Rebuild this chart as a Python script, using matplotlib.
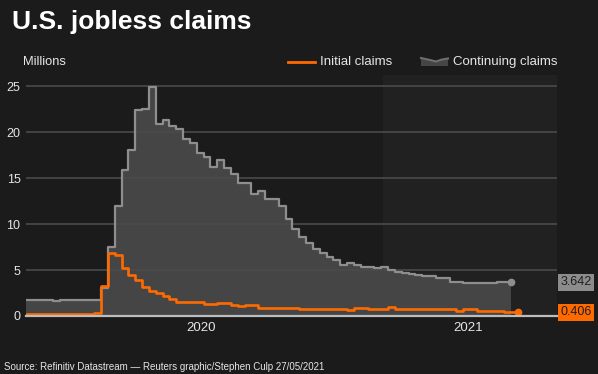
import numpy as np
import pandas as pd
import matplotlib
matplotlib.use('Agg')
import matplotlib.pyplot as plt
from matplotlib.patches import Polygon
from matplotlib.lines import Line2D

# ── Data (millions, weekly, week ending Saturday) ──────────────────────────
INITIAL_START = '2020-01-04'
initial_claims = [
    0.22, 0.21, 0.21, 0.22, 0.21, 0.21, 0.21, 0.22, 0.22, 0.21,
    0.30, 3.31, 6.87, 6.62, 5.24, 4.44, 3.87, 3.18, 2.69, 2.45,
    2.12, 1.90, 1.57, 1.54, 1.54, 1.49, 1.34, 1.34, 1.45, 1.45,
    1.20, 1.10, 1.15, 1.15, 0.92, 0.90, 0.88, 0.87, 0.86, 0.84,
    0.72, 0.80, 0.72, 0.72, 0.71, 0.72, 0.72, 0.70, 0.90, 0.90,
    0.78, 0.74, 0.74, 0.96, 0.81, 0.71, 0.71, 0.72, 0.81, 0.80,
    0.80, 0.79, 0.80, 0.58, 0.74, 0.74, 0.51, 0.51, 0.51, 0.51,
    0.44, 0.44, 0.406,
]

CONTINUING_START = '2020-01-04'
continuing_claims = [
    1.76, 1.76, 1.76, 1.76, 1.64, 1.72, 1.74, 1.74, 1.74, 1.74,
    1.74, 3.06, 7.45, 11.98, 15.82, 18.01, 22.38, 22.55, 24.91, 20.84,
    21.27, 20.61, 20.29, 19.23, 18.76, 17.76, 17.30, 16.15, 16.95, 16.09,
    15.40, 14.50, 14.50, 13.30, 13.60, 12.70, 12.70, 12.00, 10.50, 9.45,
    8.55, 7.90, 7.30, 6.80, 6.40, 6.10, 5.55, 5.80, 5.54, 5.36,
    5.30, 5.18, 5.30, 5.00, 4.80, 4.63, 4.60, 4.50, 4.35, 4.35,
    4.10, 4.10, 3.75, 3.75, 3.60, 3.60, 3.60, 3.60, 3.60, 3.70,
    3.70, 3.642,
]

year_labels = ['2020', '2021']
year_label_dates = ['2020-07-01', '2021-04-01']
yticks = [0, 5, 10, 15, 20, 25]

# ── Style ──────────────────────────────────────────────────────────────────
BG       = '#1b1b1b'
SHADE    = '#212121'
GRID     = '#4a4a4a'
ORANGE   = '#ff6a00'
GRAY_LN  = '#8e8e8e'
GRAY_FL  = '#454545'
TXT      = '#e6e6e6'

plt.rcParams['font.family'] = ['Liberation Sans', 'DejaVu Sans']

init_dates = pd.date_range(INITIAL_START, periods=len(initial_claims), freq='7D')
cont_dates = pd.date_range(CONTINUING_START, periods=len(continuing_claims), freq='7D')

fig = plt.figure(figsize=(5.98, 3.74), dpi=100, facecolor=BG)
ax = fig.add_axes([26 / 598, 1 - 316 / 374, (557 - 26) / 598, (316 - 75) / 374])
ax.set_facecolor(BG)

x_lo = pd.Timestamp('2020-01-04')
x_hi = pd.Timestamp('2021-07-01')
ax.set_xlim(x_lo, x_hi)
ax.set_ylim(0, 26.2)

# 2021 highlight
ax.axvspan(pd.Timestamp('2021-01-04'), x_hi, color=SHADE, zorder=0, lw=0)

# grid
for y in yticks[1:]:
    ax.axhline(y, color=GRID, lw=1.2, zorder=2)

# continuing claims area
ax.fill_between(cont_dates, continuing_claims, 0, step='post',
                color=GRAY_FL, lw=0, zorder=1)
ax.step(cont_dates, continuing_claims, where='post', color=GRAY_LN,
        lw=1.6, zorder=3)
ax.plot(cont_dates[-1], continuing_claims[-1], 'o', color=GRAY_LN,
        ms=4.5, zorder=4)

# initial claims line
ax.step(init_dates, initial_claims, where='post', color=ORANGE,
        lw=1.9, zorder=5)
ax.plot(init_dates[-1], initial_claims[-1], 'o', color=ORANGE,
        ms=4.5, zorder=6)

# zero line
ax.axhline(0, color='#bdbdbd', lw=1.6, zorder=7, clip_on=False)

for s in ax.spines.values():
    s.set_visible(False)

ax.set_yticks(yticks)
ax.set_yticklabels([str(v) for v in yticks])
ax.set_xticks(pd.to_datetime(year_label_dates))
ax.set_xticklabels(year_labels)
ax.tick_params(axis='y', length=0, pad=4, labelsize=9, labelcolor=TXT)
ax.tick_params(axis='x', length=0, pad=4, labelsize=9.5, labelcolor=TXT)

# end value boxes
for val, box_c in [(continuing_claims[-1], '#8c8c8c'), (initial_claims[-1], ORANGE)]:
    ax.annotate(f'{val:.3f}', xy=(1.0, val), xycoords=('axes fraction', 'data'),
                xytext=(2.5, 0), textcoords='offset points', ha='left', va='center',
                fontsize=9, color='#1e1e1e',
                bbox=dict(boxstyle='square,pad=0.2', fc=box_c, ec='none'),
                annotation_clip=False)

# title and labels
fig.text(12 / 598, 1 - 29 / 374, 'U.S. jobless claims', fontsize=19,
         fontweight='bold', color='white', ha='left', va='baseline')
fig.text(23 / 598, 1 - 62 / 374, 'Millions', fontsize=9.3, color=TXT,
         ha='left', va='center')

# legend (manual)
fig.add_artist(Line2D([288 / 598, 315 / 598], [1 - 62 / 374, 1 - 62 / 374],
                      color=ORANGE, lw=2, transform=fig.transFigure))
fig.text(320 / 598, 1 - 62 / 374, 'Initial claims', fontsize=9.5, color=TXT,
         ha='left', va='center')
wave_x = np.array([421, 430, 436, 442, 448]) / 598
wave_y = 1 - np.array([58, 60, 61.5, 59.5, 58.5]) / 374
poly = np.column_stack([np.r_[wave_x, wave_x[-1], wave_x[0]],
                        np.r_[wave_y, 1 - 66 / 374, 1 - 66 / 374]])
fig.add_artist(Polygon(poly, closed=True, fc=GRAY_FL, ec='none',
                       transform=fig.transFigure))
fig.add_artist(Line2D(wave_x, wave_y, color='#6e6e6e', lw=1.5,
                      transform=fig.transFigure))
fig.text(453 / 598, 1 - 62 / 374, 'Continuing claims', fontsize=9.5, color=TXT,
         ha='left', va='center')

fig.text(4 / 598, 1 - 367 / 374,
         'Source: Refinitiv Datastream \u2014 Reuters graphic/Stephen Culp 27/05/2021',
         fontsize=7, color=TXT, ha='left', va='center')

fig.savefig('out.png', dpi=100, facecolor=BG)
